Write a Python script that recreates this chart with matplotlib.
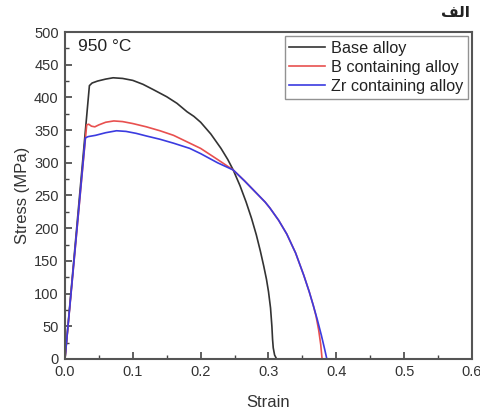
import matplotlib.pyplot as plt
from matplotlib.ticker import MultipleLocator

plt.rcParams["font.family"] = ["Liberation Sans", "DejaVu Sans"]

# -------------------------------------------------
# DATA
# -------------------------------------------------

base_strain = [0, 0.036, 0.040, 0.048, 0.060, 0.071, 0.085, 0.100, 0.115,
               0.130, 0.150, 0.165, 0.180, 0.190, 0.200, 0.215, 0.230,
               0.240, 0.248, 0.258, 0.267, 0.275, 0.282, 0.288, 0.293,
               0.297, 0.300, 0.303, 0.305, 0.306, 0.307, 0.309, 0.312]
base_stress = [0, 418, 422, 425, 428, 430, 429, 426, 420,
               412, 401, 391, 378, 371, 362, 344, 322,
               305, 289, 265, 240, 215, 190, 165, 142,
               122, 103, 78, 50, 30, 17, 6, 0]

b_strain = [0, 0.032, 0.035, 0.039, 0.044, 0.050, 0.060, 0.072, 0.085,
            0.100, 0.120, 0.140, 0.160, 0.184, 0.200, 0.225, 0.248,
            0.265, 0.280, 0.295, 0.302, 0.315, 0.327, 0.340, 0.352,
            0.360, 0.366, 0.370, 0.374, 0.377, 0.379]
b_stress = [0, 358, 359, 356, 355, 358, 362, 364, 363,
            360, 355, 349, 342, 330, 322, 305, 289,
            272, 256, 240, 231, 212, 191, 162, 128,
            103, 82, 66, 44, 22, 0]

zr_strain = [0, 0.030, 0.034, 0.045, 0.060, 0.076, 0.090, 0.105, 0.120,
             0.140, 0.160, 0.184, 0.200, 0.225, 0.248, 0.265, 0.280,
             0.295, 0.302, 0.315, 0.327, 0.340, 0.352, 0.360, 0.366,
             0.372, 0.378, 0.383, 0.386]
zr_stress = [0, 338, 340, 342, 346, 349, 348, 345, 341,
             336, 330, 322, 314, 300, 289, 272, 256,
             240, 231, 212, 191, 162, 128, 103, 82,
             60, 36, 14, 0]

labels = ["Base alloy", "B containing alloy", "Zr containing alloy"]
colors = ["#333333", "#e8504f", "#3b3be0"]

# -------------------------------------------------
# PLOT
# -------------------------------------------------

fig = plt.figure(figsize=(4.81, 4.13), dpi=100)
ax = fig.add_axes([0.1351, 0.1308, 0.8462, 0.7917])

series = [(base_strain, base_stress), (b_strain, b_stress), (zr_strain, zr_stress)]
for (x, y), lab, col in zip(series, labels, colors):
    ax.plot(x, y, color=col, lw=1.2, label=lab)

ax.set_xlim(0, 0.6)
ax.set_ylim(0, 500)
ax.xaxis.set_major_locator(MultipleLocator(0.1))
ax.xaxis.set_minor_locator(MultipleLocator(0.05))
ax.yaxis.set_major_locator(MultipleLocator(50))
ax.yaxis.set_minor_locator(MultipleLocator(25))
ax.set_xticklabels([f"{v:.1f}" for v in ax.get_xticks()])

ax.tick_params(which="both", direction="in", colors="#444444",
               labelcolor="#333333", labelsize=10.5)
ax.tick_params(which="major", length=5, width=1.2, pad=4.5)
ax.tick_params(which="minor", length=3, width=1.0)

for sp in ax.spines.values():
    sp.set_color("#555555")
    sp.set_linewidth(1.5)

ax.set_xlabel("Strain", fontsize=12, color="#333333", labelpad=11)
ax.set_ylabel("Stress (MPa)", fontsize=12, color="#333333", labelpad=3)

ax.text(0.019, 478, "950 °C", fontsize=12.5, color="#222222", va="center")

leg = ax.legend(loc="upper right", fontsize=11.7, frameon=True, fancybox=False,
                borderaxespad=0.25, handlelength=2.2, handletextpad=0.35,
                labelspacing=0.25, borderpad=0.3)
leg.get_frame().set_edgecolor("#777777")
leg.get_frame().set_linewidth(1.0)
for t in leg.get_texts():
    t.set_color("#222222")

# Arabic panel label "الف" written in shaped presentation forms
fig.text(0.977, 0.97, "\ufed2\ufedf\ufe8d", fontsize=11, fontweight="bold",
         family=["DejaVu Sans"], ha="right", va="center", color="#222222")

plt.savefig("out.png", dpi=100)
